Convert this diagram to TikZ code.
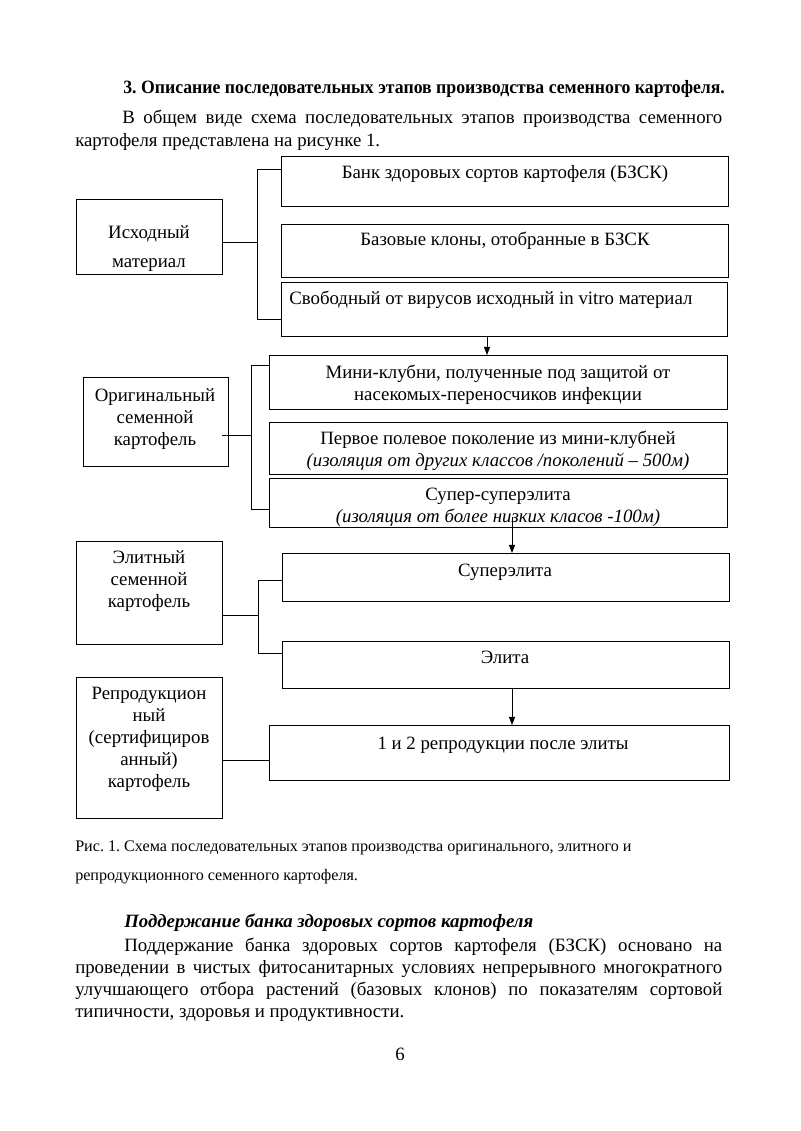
\documentclass[tikz,border=0pt]{standalone}
\usepackage{fontspec}
\setmainfont{Liberation Serif}
\usetikzlibrary{arrows.meta,calc}
\frenchspacing
\newcommand\tl[1]{\begin{tabular}[t]{@{}c@{}}#1\end{tabular}}
\newcommand\bx[5]{\node[box, minimum width={(#4-#2)*0.744pt}, minimum height={(#5-#3)*0.744pt}] (#1) at (#2,#3) {};}
\begin{document}
\begin{tikzpicture}[x=0.744pt,y=-0.744pt,
  box/.style={draw, line width=0.9pt, inner sep=0, anchor=north west},
  conn/.style={line width=0.7pt},
  arr/.style={conn, -{Triangle[length=6pt,width=4.5pt]}},
  txt/.style={inner sep=0, anchor=base, font=\fontsize{14}{16.4}\selectfont},
  para/.style={inner sep=0, anchor=base west}]
\fill[white] (0,0) rectangle (800,1131);
\useasboundingbox (0,0) rectangle (800,1131);

% header text
\node[para, font=\bfseries\fontsize{14}{16.4}\selectfont] (head) at (123,94) {\scalebox{0.943}[1]{3. Описание последовательных этапов производства семенного картофеля.}};
\node[para, font=\fontsize{14}{16.4}\selectfont] (p1) at (75,124) {\begin{minipage}[t]{481.4pt}\setlength{\parindent}{35pt}\indent В общем виде схема последовательных этапов производства семенного\linebreak картофеля представлена на рисунке 1.\end{minipage}};

% boxes
\bx{a1}{281}{156}{728}{206}
\bx{a2}{281}{224}{728}{277}
\bx{a3}{281}{282}{727}{336}
\bx{ish}{76}{199}{222}{274}
\bx{b1}{269}{355}{727}{409}
\bx{b2}{269}{422}{727}{474}
\bx{b3}{269}{478}{727}{527}
\bx{orig}{83}{377}{228}{466}
\bx{c1}{282}{553}{729}{601}
\bx{c2}{282}{641}{729}{688}
\bx{elite}{76}{541}{222}{644}
\bx{d}{269}{725}{729}{780}
\bx{repro}{76}{677}{222}{818}

% box texts
\node[txt] (a1t) at (505,179) {Банк здоровых сортов картофеля (БЗСК)};
\node[txt] (a2t) at (505,246) {Базовые клоны, отобранные в БЗСК};
\node[txt, anchor=base west] (a3t) at (289,305) {Свободный от вирусов исходный in vitro материал};
\node[txt] (b1t) at (498,378) {\tl{Мини-клубни, полученные под защитой от\\насекомых-переносчиков инфекции}};
\node[txt] (b2t) at (498,444) {\tl{Первое полевое поколение из мини-клубней\\\textit{(изоляция от других классов /поколений – 500м)}}};
\node[txt] (b3t) at (498,500) {\tl{Супер-суперэлита\\\textit{(изоляция от более низких класов -100м)}}};
\node[txt] (c1t) at (505,576) {Суперэлита};
\node[txt] (c2t) at (505,663) {Элита};
\node[txt] (dt) at (503,749) {1 и 2 репродукции после элиты};
\node[txt] (isht) at (149,239) {\tl{Исходный\\[4.5pt]материал}};
\node[txt] (origt) at (155,401) {\tl{Оригинальный\\семенной\\картофель}};
\node[txt] (elitet) at (149,563) {\tl{Элитный\\семенной\\картофель}};
\node[txt] (reprot) at (149,699) {\tl{Репродукцион\\ный\\(сертифициров\\анный)\\картофель}};

% brackets
\coordinate (sA1) at (257,169); \coordinate (sA3) at (257,319); \coordinate (jA) at (257,242);
\draw[conn] (a1.west |- sA1) -- (sA1) -- (sA3) -- (a3.west |- sA3);
\draw[conn] (ish.east |- jA) -- (jA);
\coordinate (sB1) at (251,365); \coordinate (sB3) at (251,509); \coordinate (jB) at (251,435);
\coordinate (oB) at ($(orig.east |- jB)+(-7,0)$);
\draw[conn] (b1.west |- sB1) -- (sB1) -- (sB3) -- (b3.west |- sB3);
\draw[conn] (oB) -- (jB);
\coordinate (sC1) at (258,580); \coordinate (sC2) at (258,653); \coordinate (jC) at (258,615);
\draw[conn] (c1.west |- sC1) -- (sC1) -- (sC2) -- (c2.west |- sC2);
\draw[conn] (elite.east |- jC) -- (jC);
\coordinate (jD) at (269,760);
\draw[conn] (repro.east |- jD) -- (d.west |- jD);

% arrows
\coordinate (xA) at (487,0);
\draw[arr] (a3.south -| xA) -- (b1.north -| xA);
\coordinate (bS) at (512,517);
\draw[arr] (bS) -- (c1.north -| bS);
\draw[arr] (c2.south -| bS) -- (d.north -| bS);

% caption and following text
\node[para, font=\fontsize{12}{21.6}\selectfont] (cap) at (75,851) {\begin{minipage}[t]{481.4pt}\raggedright Рис. 1. Схема последовательных этапов производства оригинального, элитного и\\репродукционного семенного картофеля.\end{minipage}};
\node[para, font=\bfseries\itshape\fontsize{14}{16.5}\selectfont] (h2) at (124,927) {Поддержание банка здоровых сортов картофеля};
\node[para, font=\fontsize{14}{16.6}\selectfont] (p2) at (75,951) {\begin{minipage}[t]{481.4pt}\setlength{\parindent}{36.5pt}\indent Поддержание банка здоровых сортов картофеля (БЗСК) основано на\linebreak проведении в чистых фитосанитарных условиях непрерывного многократного\linebreak улучшающего отбора растений (базовых клонов) по показателям сортовой\linebreak типичности, здоровья и продуктивности.\end{minipage}};
\node[txt] (pg) at (400,1060) {6};
\end{tikzpicture}
\end{document}
